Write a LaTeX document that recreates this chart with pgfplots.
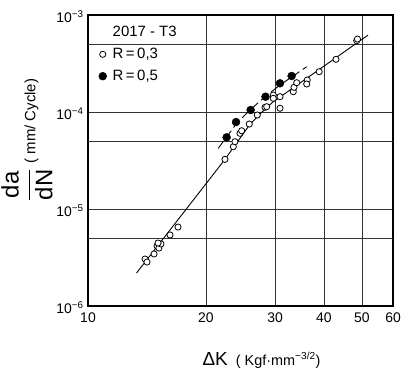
\documentclass[border=0pt]{standalone}
\usepackage{pgfplots}
\pgfplotsset{compat=1.18}
\usepackage{amsmath}
\usepackage{fontspec}
\setmainfont{Liberation Sans}
\begin{document}
\begin{tikzpicture}
\path[use as bounding box] (-88bp,-68bp) rectangle (314bp,306bp);
\begin{axis}[
  scale only axis,
  width=305bp, height=291bp,
  at={(0,0)}, anchor=south west,
  xmode=log, ymode=log,
  xmin=10, xmax=60, ymin=1e-6, ymax=1e-3,
  xtick={10,20,30,40,50,60},
  xticklabels={10,20,30,40,50,60},
  ytick={1e-6,1e-5,1e-4,1e-3},
  yticklabels={10\textsuperscript{−6},10\textsuperscript{−5},10\textsuperscript{−4},10\textsuperscript{−3}},
  extra y ticks={5e-6,5e-5,5e-4},
  extra y tick labels={},
  extra y tick style={grid=major},
  grid=major,
  major grid style={black!80, line width=0.5pt},
  major tick length=0pt, minor tick length=0pt,
  axis line style={line width=1.2pt},
  tick label style={font=\fontsize{14}{16}\selectfont},
  xticklabel style={yshift=-3pt},
  yticklabel style={xshift=-1pt, yshift=-2pt},
  /pgf/number format/assume math mode=true,
  xlabel={\fontsize{19}{21}\selectfont ΔK\hspace{8pt}\fontsize{14.5}{16}\selectfont( Kgf·mm\textsuperscript{−3/2})},
  xlabel style={at={(axis description cs:0.569,-0.203)}, anchor=base},
  ylabel={\fontsize{24}{26}\selectfont$\dfrac{\text{da}}{\text{dN}}$\hspace{5pt}\fontsize{15}{17}\selectfont( mm/ Cycle)},
  ylabel style={at={(axis description cs:-0.2,0.57)}, anchor=center},
  legend style={draw=none, fill=none, at={(axis description cs:0.01,0.975)}, anchor=north west,
    font=\fontsize{15}{17}\selectfont, row sep=6pt, nodes={inner xsep=6pt}},
  legend cell align=left,
]
\addlegendimage{empty legend}
\addlegendentry{2017 - T3}
% R=0.3 fitted line
\addplot[black, line width=0.9pt, forget plot] coordinates {
(13.3,2.19e-6) (22.36,3.25e-5) (25.79,7.3e-5) (27.5,9.6e-5) (29.5,1.25e-4) (51.8,6.2e-4)};
% R=0.5 fitted line
\addplot[black, line width=0.9pt, dash pattern=on 9pt off 4pt, forget plot] coordinates {
(21.49,4.22e-5) (23.95,7.65e-5) (25.9,1.049e-4) (28.29,1.438e-4) (30.89,1.898e-4) (36.14,2.93e-4)};
% R=0.3 data
\addplot[only marks, mark=*, mark size=3.1pt, mark options={fill=white, draw=black, line width=0.8pt}] coordinates {
(13.98,3.05e-6) (14.14,2.84e-6) (14.74,3.44e-6) (15.0,4.16e-6) (15.17,3.96e-6) (15.35,4.36e-6) (15.09,4.46e-6)
(16.19,5.4e-6) (16.97,6.52e-6)
(22.36,3.25e-5) (23.48,4.39e-5) (23.71,4.94e-5) (24.42,6.03e-5) (24.66,6.41e-5) (25.79,7.52e-5) (27.03,9.31e-5)
(28.29,1.118e-4) (28.57,1.134e-4) (29.70,1.497e-4) (29.70,1.384e-4) (30.89,1.438e-4) (30.89,1.092e-4)
(33.40,1.619e-4) (33.54,1.797e-4) (34.08,2.005e-4) (36.26,2.138e-4) (36.14,1.944e-4) (38.90,2.603e-4)
(42.93,3.494e-4) (48.48,5.43e-4) (48.7,5.65e-4)};
\addlegendentry{R\,=\,0,3}
% R=0.5 data
\addplot[only marks, mark=*, mark size=4pt, mark options={fill=black, draw=black}] coordinates {
(22.58,5.48e-5) (23.86,7.88e-5) (26.0,1.049e-4) (28.37,1.438e-4) (30.89,1.977e-4) (33.08,2.35e-4)};
\addlegendentry{R\,=\,0,5}
\end{axis}
\end{tikzpicture}
\end{document}
